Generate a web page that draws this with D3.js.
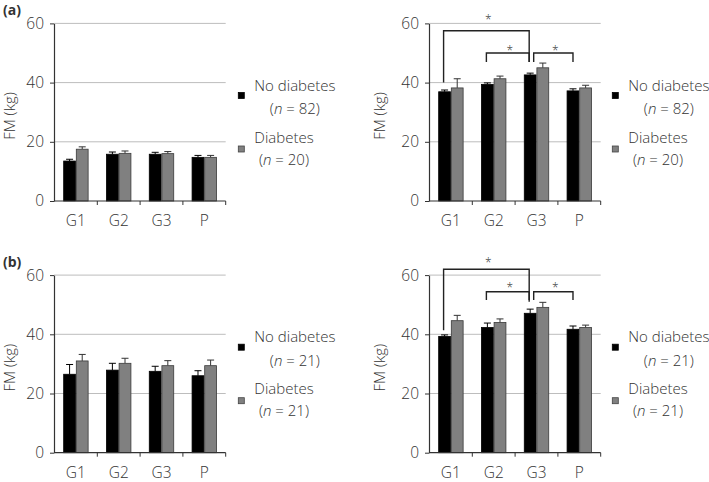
<!DOCTYPE html>
<html>
<head>
<meta charset="utf-8">
<script src="https://cdn.jsdelivr.net/npm/d3@7"></script>
<style>
  html, body { margin: 0; padding: 0; background: #fff; }
  svg { display: block; }
  text { font-family: "Open Sans", "Noto Sans", sans-serif; fill: #333; font-weight: 300; }
</style>
</head>
<body>
<svg id="chart" width="709" height="482"></svg>
<script>
// ---------- data ----------
const categories = ["G1", "G2", "G3", "P"];
const seriesNames = ["No diabetes", "Diabetes"];
const yTicks = [0, 20, 40, 60];

// panel (a) left
const aLeftNoDiab    = [13.5, 15.8, 15.8, 14.75];
const aLeftNoDiabErr = [0.6, 0.75, 0.65, 0.65];
const aLeftDiab      = [17.5, 16.1, 16.0, 14.75];
const aLeftDiabErr   = [0.8, 0.8, 0.7, 0.65];
// panel (a) right
const aRightNoDiab    = [36.9, 39.4, 42.6, 37.2];
const aRightNoDiabErr = [0.6, 0.5, 0.6, 0.7];
const aRightDiab      = [38.2, 41.3, 45.0, 38.2];
const aRightDiabErr   = [3.1, 0.9, 1.6, 0.9];
// panel (b) left
const bLeftNoDiab    = [26.5, 27.9, 27.5, 26.0];
const bLeftNoDiabErr = [3.3, 2.3, 1.7, 1.7];
const bLeftDiab      = [31.0, 30.2, 29.4, 29.4];
const bLeftDiabErr   = [2.2, 1.7, 1.7, 1.9];
// panel (b) right
const bRightNoDiab    = [39.3, 42.3, 47.1, 41.7];
const bRightNoDiabErr = [0.5, 1.5, 1.4, 1.1];
const bRightDiab      = [44.6, 44.0, 49.1, 42.3];
const bRightDiabErr   = [1.8, 1.2, 1.7, 0.8];

const aLegendN = ["(n = 82)", "(n = 20)"];
const bLegendN = ["(n = 21)", "(n = 21)"];

// significance brackets: [fromCat, toCat, topValue, leftLegBottom, rightLegBottom, starValue]
const aBrackets = [
  ["G1", "G3", 57.5, 40.0, 47.0, 62.3],
  ["G2", "G3", 50.0, 47.0, 47.0, 51.6],
  ["G3", "P",  50.0, 47.0, 47.0, 51.6]
];
const bBrackets = [
  ["G1", "G3", 62.0, 41.4, 51.0, 65.2],
  ["G2", "G3", 54.4, 51.6, 51.6, 56.6],
  ["G3", "P",  54.4, 51.6, 51.6, 56.6]
];

const colors = ["#000000", "#808080"];

// ---------- drawing ----------
const svg = d3.select("#chart");

function drawPanel(ox, oy, noDiab, noDiabErr, diab, diabErr, legendN, brackets) {
  const g = svg.append("g");
  const y = d3.scaleLinear().domain([0, 60]).range([201 + oy, 23.4 + oy]);
  const x0 = d3.scaleBand().domain(categories).range([54.5 + ox, 225.7 + ox]);
  const bw = x0.bandwidth();
  const x1 = d3.scaleBand().domain(seriesNames).range([bw * 0.205, bw * 0.795]);

  // gridlines
  g.append("g").selectAll("line").data(yTicks.filter(d => d > 0)).join("line")
    .attr("x1", 54 + ox).attr("x2", 225.7 + ox)
    .attr("y1", d => y(d)).attr("y2", d => y(d))
    .attr("stroke", "#bdbdbd").attr("stroke-width", 1);

  // bars
  const rows = categories.map((c, i) => ({
    cat: c,
    vals: [
      { s: seriesNames[0], v: noDiab[i], e: noDiabErr[i], k: 0 },
      { s: seriesNames[1], v: diab[i], e: diabErr[i], k: 1 }
    ]
  }));
  const grp = g.append("g").selectAll("g").data(rows).join("g")
    .attr("transform", d => `translate(${x0(d.cat)},0)`);
  grp.selectAll("line.err").data(d => d.vals).join("line").attr("class", "err")
    .attr("x1", d => x1(d.s) + x1.bandwidth() / 2).attr("x2", d => x1(d.s) + x1.bandwidth() / 2)
    .attr("y1", d => y(d.v)).attr("y2", d => y(d.v + d.e))
    .attr("stroke", d => d.k ? "#333" : "#000").attr("stroke-width", 1);
  grp.selectAll("line.cap").data(d => d.vals).join("line").attr("class", "cap")
    .attr("x1", d => x1(d.s) + x1.bandwidth() / 2 - 3.5).attr("x2", d => x1(d.s) + x1.bandwidth() / 2 + 3.5)
    .attr("y1", d => y(d.v + d.e)).attr("y2", d => y(d.v + d.e))
    .attr("stroke", d => d.k ? "#333" : "#000").attr("stroke-width", 1);
  grp.selectAll("rect").data(d => d.vals).join("rect")
    .attr("x", d => x1(d.s) + 0.4).attr("width", x1.bandwidth() - 0.8)
    .attr("y", d => y(d.v)).attr("height", d => y(0) - y(d.v))
    .attr("fill", d => colors[d.k])
    .attr("stroke", d => d.k ? "#3a3a3a" : "#000").attr("stroke-width", 0.8);

  // y axis
  const ya = g.append("g").attr("transform", `translate(${54 + ox},0)`)
    .call(d3.axisLeft(y).tickValues(yTicks).tickSize(4).tickSizeOuter(0).tickPadding(6));
  ya.select(".domain").attr("stroke", "#333").attr("stroke-width", 1.2);
  ya.selectAll(".tick line").attr("stroke", "#333");
  ya.selectAll(".tick text").attr("font-size", 15.5).attr("fill", "#333")
    .style("font-family", '"Open Sans", sans-serif').style("font-weight", 300);

  // x axis
  const xa = g.append("g").attr("transform", `translate(0,${y(0)})`)
    .call(d3.axisBottom(x0).tickSize(0).tickPadding(14));
  xa.select(".domain").remove();
  xa.selectAll(".tick text").attr("font-size", 15.5).attr("fill", "#333")
    .style("font-family", '"Open Sans", sans-serif').style("font-weight", 300);
  g.append("line").attr("x1", 54 + ox).attr("x2", 225.7 + ox)
    .attr("y1", y(0)).attr("y2", y(0)).attr("stroke", "#333").attr("stroke-width", 1.2);
  const bounds = categories.map(c => x0(c)).slice(1).concat([x0.range()[1]]);
  g.append("g").selectAll("line").data(bounds).join("line")
    .attr("x1", d => d).attr("x2", d => d)
    .attr("y1", y(0)).attr("y2", y(0) + 4)
    .attr("stroke", "#333").attr("stroke-width", 1);

  // y label
  g.append("text")
    .attr("transform", `translate(${14.5 + ox + (ox ? -4.5 : 0)},${116 + oy}) rotate(-90)`)
    .attr("text-anchor", "middle").attr("font-size", 15)
    .text("FM (kg)");

  // legend
  const lx = 238.3 + (ox ? 374 : 0);
  const ly = oy;
  const lg = g.append("g");
  const entries = [
    { name: seriesNames[0], n: legendN[0], sq: 92.5, b1: 90.7, b2: 114.3 },
    { name: seriesNames[1], n: legendN[1], sq: 146, b1: 142.7, b2: 164.6 }
  ];
  entries.forEach((e, k) => {
    lg.append("rect").attr("x", lx).attr("y", e.sq + ly).attr("width", 6).attr("height", 6)
      .attr("fill", colors[k]).attr("stroke", k ? "#444" : "#000").attr("stroke-width", 0.8);
    const t1 = lg.append("text").attr("x", lx + 16).attr("y", e.b1 + ly)
      .attr("font-size", 15).text(e.name);
    const w = t1.node().getComputedTextLength();
    const cx = lx + 16 + w / 2;
    const parts = e.n.match(/^\((n)( = .*)\)$/);
    const t2 = lg.append("text").attr("x", cx).attr("y", e.b2 + ly)
      .attr("text-anchor", "middle").attr("font-size", 15);
    t2.append("tspan").text("(");
    t2.append("tspan").attr("font-style", "italic").text(parts[1]);
    t2.append("tspan").text(parts[2] + ")");
  });

  // brackets
  if (brackets) {
    brackets.forEach((b, i) => {
      const xa_ = x0(b[0]) + x1(seriesNames[0]) + x1.bandwidth() / 2 + (i === 2 ? 3.5 : -1);
      const xb_ = x0(b[1]) + x1(seriesNames[0]) + x1.bandwidth() / 2 + (i === 2 ? 0 : -1);
      const path = d3.path();
      path.moveTo(xa_, y(b[3]));
      path.lineTo(xa_, y(b[2]));
      path.lineTo(xb_, y(b[2]));
      path.lineTo(xb_, y(b[4]));
      g.append("path").attr("d", path.toString()).attr("fill", "none")
        .attr("stroke", "#222").attr("stroke-width", 1.4);
      g.append("text").attr("x", (xa_ + xb_) / 2 + 2).attr("y", y(b[5]) + 7)
        .attr("text-anchor", "middle").attr("font-size", 12).text("*");
    });
  }
}

drawPanel(0, 0, aLeftNoDiab, aLeftNoDiabErr, aLeftDiab, aLeftDiabErr, aLegendN, null);
drawPanel(375, 0, aRightNoDiab, aRightNoDiabErr, aRightDiab, aRightDiabErr, aLegendN, aBrackets);
drawPanel(0, 251.7, bLeftNoDiab, bLeftNoDiabErr, bLeftDiab, bLeftDiabErr, bLegendN, null);
drawPanel(375, 251.7, bRightNoDiab, bRightNoDiabErr, bRightDiab, bRightDiabErr, bLegendN, bBrackets);

// panel labels
svg.append("text").attr("x", 3).attr("y", 15).attr("font-size", 14).style("font-weight", "bold").text("(a)");
svg.append("text").attr("x", 3).attr("y", 266.5).attr("font-size", 14).style("font-weight", "bold").text("(b)");
</script>
</body>
</html>
